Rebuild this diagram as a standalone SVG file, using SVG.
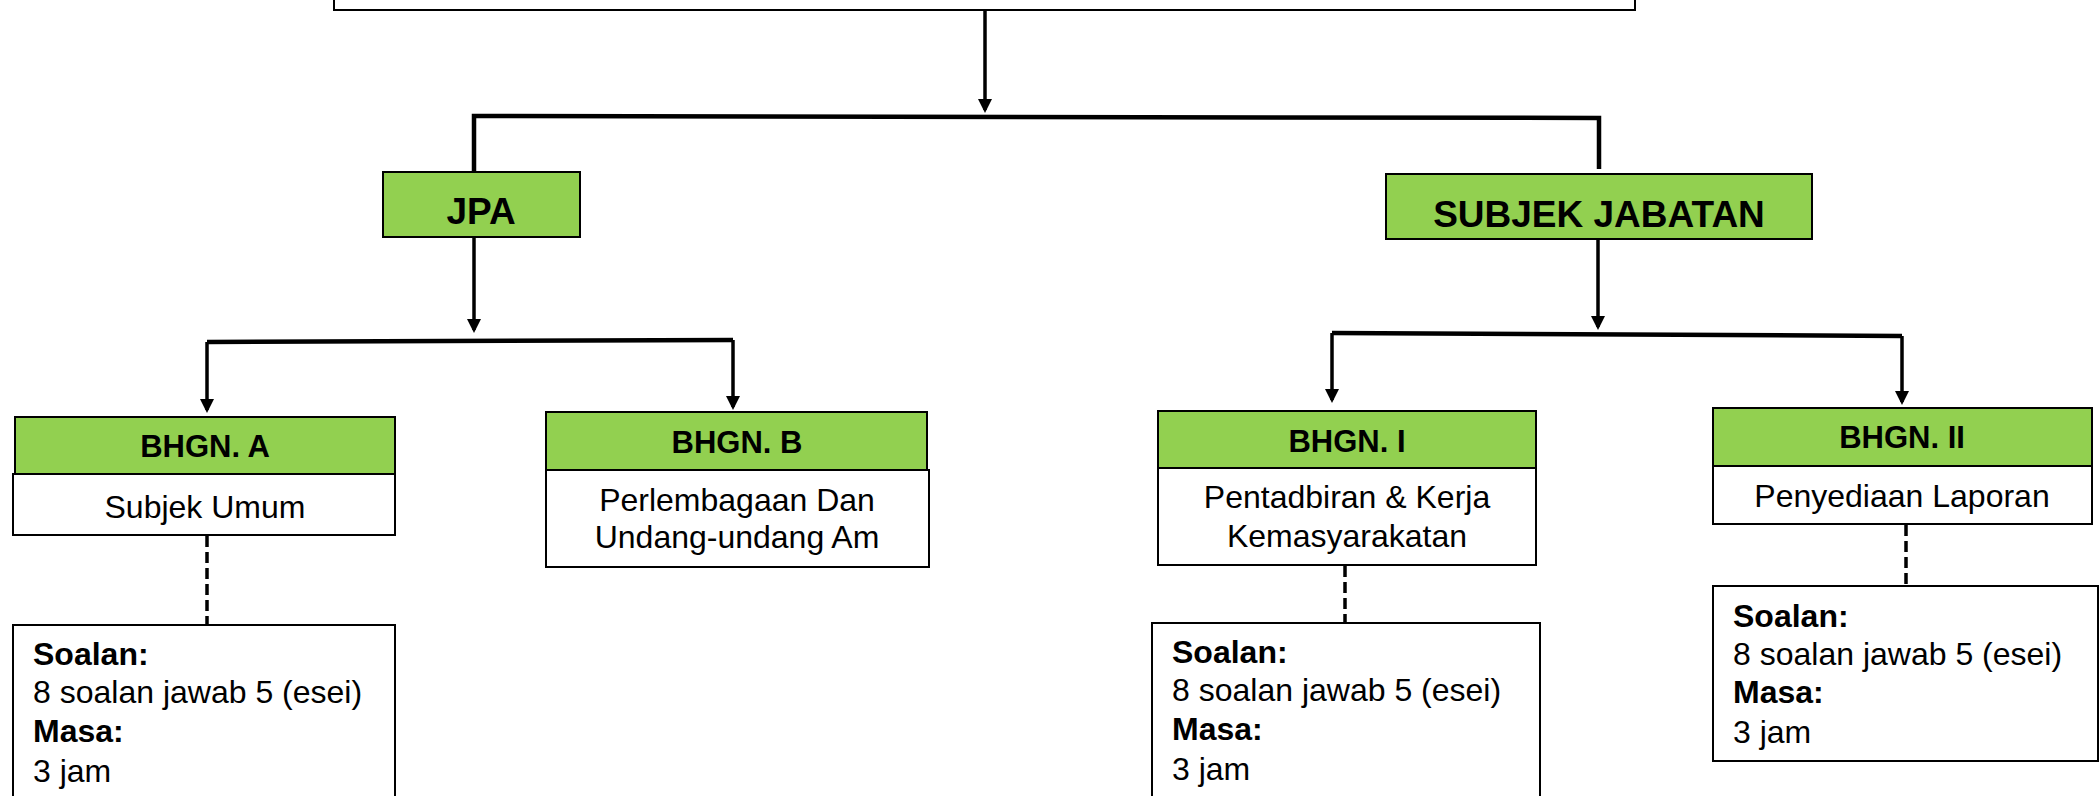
<svg xmlns="http://www.w3.org/2000/svg" width="2100" height="796" viewBox="0 0 2100 796">
<style>
.box{fill:#ffffff;stroke:#000;stroke-width:2}
.grn{fill:#92D050;stroke:#000;stroke-width:2}
.t{font-family:"Liberation Sans",Arial,sans-serif;fill:#000}
.hd{font-size:37px;font-weight:bold;text-anchor:middle}
.sub{font-size:31px;font-weight:bold;text-anchor:middle}
.body{font-size:32px;text-anchor:middle}
.info{font-size:32px}
.b{font-weight:bold}
.ln{stroke:#000;stroke-width:3.5;fill:none}
.bar{stroke:#000;stroke-width:4.5;fill:none}
.dash{stroke:#000;stroke-width:3.5;fill:none;stroke-dasharray:11 5}
.arr{marker-end:url(#ah)}
</style>
<defs>
<marker id="ah" viewBox="0 0 14 14" refX="11" refY="7" markerWidth="14" markerHeight="14" orient="auto" markerUnits="userSpaceOnUse">
<path d="M0,0 L14,7 L0,14 z" fill="#000"/>
</marker>
</defs>
<rect width="2100" height="796" fill="#fff"/>

<g id="connectors">
<line class="ln arr" x1="985" y1="10" x2="985" y2="110"/>
<polyline class="bar" points="474,171 474,116 1599,118 1599,169"/>
<line class="ln arr" x1="474" y1="237" x2="474" y2="330"/>
<polyline class="bar" points="207,342 733,340"/>
<line class="ln arr" x1="207" y1="342" x2="207" y2="410"/>
<line class="ln arr" x1="733" y1="340" x2="733" y2="407"/>
<line class="ln arr" x1="1598" y1="239" x2="1598" y2="327"/>
<polyline class="bar" points="1332,333 1902,336"/>
<line class="ln arr" x1="1332" y1="333" x2="1332" y2="400"/>
<line class="ln arr" x1="1902" y1="336" x2="1902" y2="402"/>
<line class="dash" x1="207" y1="536" x2="207" y2="624"/>
<line class="dash" x1="1345" y1="566" x2="1345" y2="622"/>
<line class="dash" x1="1906" y1="525" x2="1906" y2="585"/>
</g>

<g id="top">
<rect class="box" x="334" y="-10" width="1301" height="20"/>
</g>

<g id="jpa">
<rect class="grn" x="383" y="172" width="197" height="65"/>
<text class="t hd" x="481" y="224">JPA</text>
</g>

<g id="subjek-jabatan">
<rect class="grn" x="1386" y="174" width="426" height="65"/>
<text class="t hd" x="1599" y="227">SUBJEK JABATAN</text>
</g>

<g id="bhgn-a">
<rect class="grn" x="15" y="417" width="380" height="57"/>
<rect class="box" x="13" y="474" width="382" height="61"/>
<text class="t sub" x="205" y="457">BHGN. A</text>
<text class="t body" x="205" y="518">Subjek Umum</text>
</g>

<g id="bhgn-b">
<rect class="grn" x="546" y="412" width="381" height="58"/>
<rect class="box" x="546" y="470" width="383" height="97"/>
<text class="t sub" x="737" y="453">BHGN. B</text>
<text class="t body" x="737" y="511">Perlembagaan Dan</text>
<text class="t body" x="737" y="548">Undang-undang Am</text>
</g>

<g id="bhgn-i">
<rect class="grn" x="1158" y="411" width="378" height="57"/>
<rect class="box" x="1158" y="468" width="378" height="97"/>
<text class="t sub" x="1347" y="452">BHGN. I</text>
<text class="t body" x="1347" y="508">Pentadbiran &amp; Kerja</text>
<text class="t body" x="1347" y="547">Kemasyarakatan</text>
</g>

<g id="bhgn-ii">
<rect class="grn" x="1713" y="408" width="379" height="58"/>
<rect class="box" x="1713" y="466" width="379" height="58"/>
<text class="t sub" x="1902" y="448">BHGN. II</text>
<text class="t body" x="1902" y="507">Penyediaan Laporan</text>
</g>

<g id="soalan-a">
<rect class="box" x="13" y="625" width="382" height="200"/>
<text class="t info b" x="33" y="665">Soalan:</text>
<text class="t info" x="33" y="703">8 soalan jawab 5 (esei)</text>
<text class="t info b" x="33" y="742">Masa:</text>
<text class="t info" x="33" y="782">3 jam</text>
</g>

<g id="soalan-i">
<rect class="box" x="1152" y="623" width="388" height="200"/>
<text class="t info b" x="1172" y="663">Soalan:</text>
<text class="t info" x="1172" y="701">8 soalan jawab 5 (esei)</text>
<text class="t info b" x="1172" y="740">Masa:</text>
<text class="t info" x="1172" y="780">3 jam</text>
</g>

<g id="soalan-ii">
<rect class="box" x="1713" y="586" width="385" height="175"/>
<text class="t info b" x="1733" y="627">Soalan:</text>
<text class="t info" x="1733" y="665">8 soalan jawab 5 (esei)</text>
<text class="t info b" x="1733" y="703">Masa:</text>
<text class="t info" x="1733" y="743">3 jam</text>
</g>
</svg>
